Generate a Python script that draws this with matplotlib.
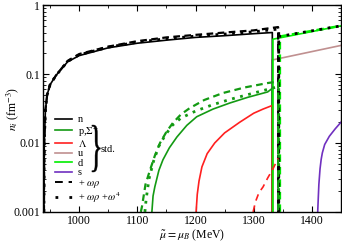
import numpy as np
import matplotlib
matplotlib.use("Agg")
import matplotlib.pyplot as plt
from matplotlib.ticker import FixedLocator, NullFormatter, MultipleLocator
from matplotlib.textpath import TextPath
from matplotlib.patches import PathPatch
from matplotlib.font_manager import FontProperties
from matplotlib.transforms import Affine2D

plt.rcParams['font.family'] = ['Liberation Serif', 'DejaVu Serif']
plt.rcParams['mathtext.fontset'] = 'stix'

# neutron density (std., +omega rho, +omega rho + omega^4)
n_mu = [939.5, 940, 942, 945, 950, 960, 980, 1000, 1050, 1100, 1150, 1200, 1250, 1300, 1332, 1332]
n_val = [0.001, 0.01, 0.03, 0.05, 0.07, 0.095, 0.15, 0.185, 0.24, 0.28, 0.31, 0.34, 0.36, 0.385, 0.40, 0.001]
n_mu_wr = [939.5, 940, 942, 945, 950, 960, 980, 1000, 1050, 1100, 1150, 1200, 1250, 1300, 1342, 1342]
n_val_wr = [0.001, 0.01, 0.03, 0.05, 0.07, 0.095, 0.155, 0.195, 0.25, 0.30, 0.34, 0.37, 0.40, 0.43, 0.48, 0.001]
n_mu_w4 = [939.5, 940, 942, 945, 950, 960, 980, 1000, 1050, 1100, 1150, 1200, 1250, 1300, 1343, 1343]
n_val_w4 = [0.001, 0.01, 0.03, 0.05, 0.07, 0.095, 0.152, 0.19, 0.245, 0.29, 0.325, 0.355, 0.38, 0.41, 0.45, 0.001]

# proton / Sigma-
p_mu = [1125, 1127, 1130, 1137, 1144, 1155, 1168, 1185, 1202, 1230, 1259, 1290, 1324, 1332, 1332]
p_val = [0.001, 0.0017, 0.0023, 0.004, 0.0057, 0.0085, 0.0122, 0.018, 0.024, 0.031, 0.038, 0.046, 0.055, 0.062, 0.001]
p_mu_wr = [1106, 1108, 1114, 1122, 1130, 1139, 1150, 1161, 1175, 1190, 1215, 1247, 1285, 1324, 1342, 1342]
p_val_wr = [0.001, 0.0012, 0.0025, 0.0041, 0.0065, 0.010, 0.0145, 0.0195, 0.026, 0.032, 0.042, 0.053, 0.064, 0.074, 0.078, 0.001]
p_mu_w4 = [1113, 1115, 1120, 1128, 1137, 1148, 1160, 1175, 1200, 1230, 1260, 1300, 1343, 1343]
p_val_w4 = [0.001, 0.0015, 0.003, 0.0055, 0.009, 0.013, 0.018, 0.023, 0.029, 0.036, 0.043, 0.053, 0.066, 0.001]

# Lambda
l_mu = [1201, 1203, 1206, 1211, 1220, 1233, 1250, 1276, 1300, 1316, 1332, 1332]
l_val = [0.001, 0.0018, 0.0028, 0.0045, 0.007, 0.010, 0.014, 0.020, 0.027, 0.031, 0.035, 0.001]
l_mu_wr = [1299, 1303, 1309, 1316, 1324, 1333, 1342]
l_val_wr = [0.001, 0.0014, 0.0019, 0.0023, 0.0031, 0.0042, 0.006]

# quarks
u_mu = [1332, 1332, 1450]
u_val = [0.001, 0.16, 0.26]
d_mu = [1333, 1333, 1450]
d_val = [0.001, 0.32, 0.50]
d_mu_wr = [1345, 1345, 1450]
d_val_wr = [0.001, 0.35, 0.50]
d_mu_w4 = [1343, 1343, 1450]
d_val_w4 = [0.001, 0.35, 0.50]
s_mu = [1410, 1411, 1412, 1414, 1416, 1418, 1422, 1430, 1440, 1450]
s_val = [0.001, 0.0016, 0.0025, 0.0042, 0.0058, 0.0072, 0.0095, 0.0125, 0.016, 0.020]

c_n = 'black'
c_p = '#139a13'
c_l = '#ff2020'
c_u = '#c09090'
c_d = '#00ee00'
c_s = '#7030c0'

fig = plt.figure(figsize=(3.42, 2.43), dpi=100)
ax = fig.add_axes([0.126, 0.128, 0.871, 0.851])

lw = 1.2
ax.plot(u_mu, u_val, color=c_u, lw=lw)
ax.plot(n_mu, n_val, color=c_n, lw=lw)
ax.plot(p_mu, p_val, color=c_p, lw=lw)
ax.plot(l_mu, l_val, color=c_l, lw=lw)
ax.plot(d_mu, d_val, color=c_d, lw=lw)
ax.plot(n_mu_wr, n_val_wr, color=c_n, lw=1.6, ls=(0, (3, 2)))
ax.plot(d_mu_wr, d_val_wr, color=c_d, lw=1.8, ls=(0, (3, 2)))
ax.plot(n_mu_w4, n_val_w4, color=c_n, lw=2.0, ls=(0, (1, 2)))
ax.plot(d_mu_w4, d_val_w4, color='black', lw=2.0, ls=(0, (1, 2)))
ax.plot(p_mu_wr, p_val_wr, color=c_p, lw=1.6, ls=(0, (3, 2)))
ax.plot(p_mu_w4, p_val_w4, color=c_p, lw=2.0, ls=(0, (1, 2)))
ax.plot(l_mu_wr, l_val_wr, color=c_l, lw=1.2, ls=(0, (4, 3)))
ax.plot(s_mu, s_val, color=c_s, lw=lw)

ax.set_yscale('log')
ax.set_xlim(938, 1450)
ax.set_ylim(0.001, 1)
ax.xaxis.set_major_locator(MultipleLocator(100))
ax.xaxis.set_minor_locator(MultipleLocator(50))
ax.yaxis.set_major_locator(FixedLocator([0.001, 0.01, 0.1, 1]))
ax.set_yticklabels(['0.001', '0.01', '0.1', '1'])
ax.yaxis.set_minor_formatter(NullFormatter())
ax.tick_params(which='both', direction='in', top=True, right=True, labelsize=8.5, pad=2)
ax.tick_params(which='major', length=4)
ax.tick_params(which='minor', length=2)
for sp in ax.spines.values():
    sp.set_linewidth(1.0)

ax.set_xlabel(r'$\tilde{\mu} = \mu_B$ (MeV)', fontsize=8.5, labelpad=1)
ax.set_ylabel(r'$n_i$ (fm$^{-3}$)', fontsize=8.5)
ax.yaxis.set_label_coords(-0.075, 0.5)

# legend
handles = [
    plt.Line2D([], [], color=c_n, lw=lw),
    plt.Line2D([], [], color=c_p, lw=lw),
    plt.Line2D([], [], color=c_l, lw=lw),
    plt.Line2D([], [], color=c_u, lw=lw),
    plt.Line2D([], [], color=c_d, lw=lw),
    plt.Line2D([], [], color=c_s, lw=lw),
    plt.Line2D([], [], color='black', lw=1.4, ls=(0, (4, 3))),
    plt.Line2D([], [], color='black', lw=2.0, ls=(0, (1, 4))),
]
labels = ['n', r'p,$\Sigma^{-}$', r'$\Lambda$', 'u', 'd', 's',
          r'+ $\omega\rho$', r'+ $\omega\rho$ +$\omega^4$']
ax.legend(handles, labels, loc='lower left', bbox_to_anchor=(0.04, 0.035),
          frameon=False, fontsize=7.5, handlelength=1.6, handletextpad=0.6,
          labelspacing=0.02, borderaxespad=0, borderpad=0)

# curly brace grouping the std. entries
tp = TextPath((0, 0), '}', size=1, prop=FontProperties(family='Liberation Serif'))
ext = tp.get_extents()
bx0, by0, bw, bh = 0.164, 0.193, 0.028, 0.227
tr = (Affine2D().translate(-ext.x0, -ext.y0)
      .scale(bw / ext.width, bh / ext.height)
      .translate(bx0, by0) + ax.transAxes)
ax.add_patch(PathPatch(tp, transform=tr, facecolor='black', lw=0.3))
ax.text(0.194, 0.304, 'std.', transform=ax.transAxes, fontsize=7.5,
        va='center', ha='left')

fig.savefig('out.png', dpi=100)
